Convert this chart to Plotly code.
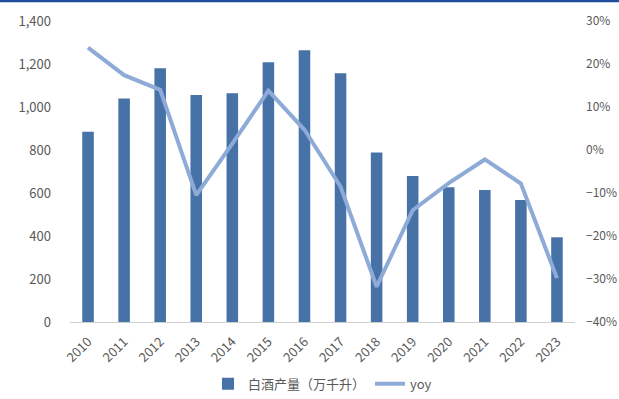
import plotly.graph_objects as go

years = [str(y) for y in range(2010, 2024)]
output = [885, 1040, 1180, 1056, 1064, 1208, 1264, 1157, 788, 679, 627, 614, 567, 394]
yoy = [23.8, 17.4, 14.0, -10.5, 1.5, 13.8, 4.7, -8.5, -31.8, -14.0, -7.7, -2.2, -7.8, -29.8]

left_ticks = [0, 200, 400, 600, 800, 1000, 1200, 1400]
left_labels = ["0", "200", "400", "600", "800", "1,000", "1,200", "1,400"]
right_ticks = [-40, -30, -20, -10, 0, 10, 20, 30]
right_labels = ["−40%", "−30%", "−20%", "−10%", "0%", "10%", "20%", "30%"]

bar_name = "白酒产量（万千升）"
line_name = "yoy"

W, H = 619, 399
ml, mr, mt, mb = 70, 44, 21, 77

fig = go.Figure()
fig.add_trace(go.Bar(x=years, y=output, name=bar_name, marker_color="#4672a8",
                     marker_line_width=0, yaxis="y"))
fig.add_trace(go.Scatter(x=years, y=yoy, name=line_name, mode="lines",
                         line=dict(color="#8eaad6", width=4), yaxis="y2"))

font_fam = "Noto Sans CJK SC, Noto Sans, sans-serif"
fig.update_layout(
    width=W, height=H,
    margin=dict(l=ml, r=mr, t=mt, b=mb, pad=0, autoexpand=False),
    paper_bgcolor="white", plot_bgcolor="white",
    font=dict(family=font_fam, size=13, color="#595959"),
    bargap=0.68,
    showlegend=True,
    legend=dict(orientation="h", x=0.5, xanchor="center", y=-0.205, yanchor="middle",
                font=dict(size=13, color="#595959"), itemwidth=30, traceorder="normal"),
    xaxis=dict(type="category", tickangle=-45, showgrid=False, showline=True,
               linecolor="#d0d0d0", linewidth=1, ticks="", tickfont=dict(size=13),
               ticklabelstandoff=6, automargin=False),
    yaxis=dict(range=[0, 1400], tickvals=left_ticks, ticktext=left_labels, showgrid=False,
               zeroline=False, showline=False, ticks="", ticklabelstandoff=18,
               automargin=False),
    yaxis2=dict(range=[-40, 30], tickvals=right_ticks, ticktext=right_labels, overlaying="y",
                side="right", showgrid=False, zeroline=False, showline=False, ticks="",
                ticklabelstandoff=10, automargin=False, tickfont=dict(size=12)),
)

pw = W - ml - mr
ph = H - mt - mb
fig.add_shape(type="line", xref="paper", yref="paper",
              x0=-ml / pw, x1=(W - ml) / pw, y0=(ph + mt - 1) / ph, y1=(ph + mt - 1) / ph,
              line=dict(color="#1f4e9a", width=2.5))

fig.write_html("out.html")
